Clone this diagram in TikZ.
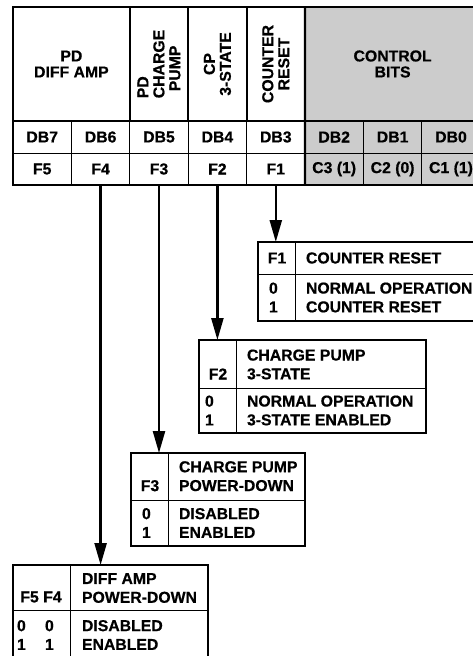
\documentclass[tikz,border=0pt]{standalone}
\usepackage{fontspec}
\setmainfont{Liberation Sans}[BoldFeatures={FakeBold=0.6}]
\usetikzlibrary{arrows.meta,positioning}
\definecolor{ctrlgrey}{gray}{0.8}

\begin{document}
\begin{tikzpicture}[x=1pt, y=-1pt,
  every node/.style={inner sep=0pt, outer sep=0pt, font=\bfseries\fontsize{15.8}{16}\selectfont},
  cell/.style={draw, line width=1pt, minimum width=58.4pt, minimum height=32pt},
  grey cell/.style={cell, fill=ctrlgrey},
  headcell/.style={draw, line width=1.8pt, minimum height=114pt, align=center},
  tableframe/.style={line width=2.4pt},
  boxframe/.style={line width=1.6pt},
  thinrule/.style={line width=1pt},
  body/.style={anchor=west, align=left, font=\bfseries\fontsize{15.8}{18.8}\selectfont},
  flagarrow/.style={line width=2.4pt, -{Triangle[length=22pt, width=12pt]}}]
\useasboundingbox (0,0) rectangle (472,656);

% register table
\node[headcell, minimum width=116.8pt] (hpd) at (71.4,64) {PD\\DIFF AMP};
\node[headcell, rotate=90, minimum width=114pt, minimum height=58.4pt, align=left] (hpump) at (159,64) {PD\\CHARGE\\\hspace*{7pt}PUMP};
\node[headcell, rotate=90, minimum width=114pt, minimum height=58.4pt] (hcp) at (217.4,64) {CP\\3-STATE};
\node[headcell, rotate=90, minimum width=114pt, minimum height=58.4pt] (hcnt) at (275.8,64) {COUNTER\\RESET};
\node[headcell, fill=ctrlgrey, minimum width=175.2pt] (hctl) at (392.6,64) {CONTROL\\BITS};

\foreach \n [count=\i from 0] in {7,6,5,4,3}
  \node[cell] (db\n) at (42.2+58.4*\i,137) {DB\n};
\foreach \n [count=\i from 5] in {2,1,0}
  \node[grey cell] (db\n) at (42.2+58.4*\i,137) {DB\n};
\foreach \n [count=\i from 0] in {5,4,3,2,1}
  \node[cell] (f\n) at (42.2+58.4*\i,169) {F\n};
\foreach \n/\v [count=\i from 5] in {3/1,2/0,1/1}
  \node[grey cell] (c\n) at (42.2+58.4*\i,169) {C\n\ (\v)};

\draw[tableframe] (hpd.north west) rectangle (c1.south east);
\draw[tableframe] (hctl.north west) -- (c3.south west);

% F1 box
\begin{scope}[shift={(258,242)}]
\coordinate (t1) at (0,0);
\draw[boxframe] (0,0) rectangle (240,79);
\draw[thinrule] (37,0) -- (37,79) (0,32) -- (240,32);
\node (k1) at (19,16) {F1};
\node[body] (n1) at (48,16) {COUNTER RESET};
\node[body] (v1) at (11,55.5) {0\\1};
\node[body] (s1) at (48,55.5) {NORMAL OPERATION\\COUNTER RESET};
\end{scope}

% F2 box
\begin{scope}[shift={(199,340)}]
\coordinate (t2) at (0,0);
\draw[boxframe] (0,0) rectangle (227,93);
\draw[thinrule] (37,0) -- (37,93) (0,48) -- (227,48);
\node (k2) at (19,34) {F2};
\node[body] (n2) at (48,24.5) {CHARGE PUMP\\3-STATE};
\node[body] (v2) at (6,70.5) {0\\1};
\node[body] (s2) at (48,70.5) {NORMAL OPERATION\\3-STATE ENABLED};
\end{scope}

% F3 box
\begin{scope}[shift={(131,453)}]
\coordinate (t3) at (0,0);
\draw[boxframe] (0,0) rectangle (174,93);
\draw[thinrule] (37,0) -- (37,93) (0,47) -- (174,47);
\node (k3) at (19,32.7) {F3};
\node[body] (n3) at (48,23.2) {CHARGE PUMP\\POWER-DOWN};
\node[body] (v3) at (11,70) {0\\1};
\node[body] (s3) at (48,70) {DISABLED\\ENABLED};
\end{scope}

% F5 F4 box
\begin{scope}[shift={(13,565)}]
\coordinate (t4) at (0,0);
\draw[boxframe] (0,0) rectangle (195,97);
\draw[thinrule] (57,0) -- (57,97) (0,45) -- (195,45);
\node (k4) at (28,32) {F5 F4};
\node[body] (n4) at (69,23) {DIFF AMP\\POWER-DOWN};
\node[body] (v5) at (4,70) {0\\1};
\node[body] (v4) at (32,70) {0\\1};
\node[body] (s4) at (69,70) {DISABLED\\ENABLED};
\end{scope}

% arrows
\draw[flagarrow] (f1.south) -- (f1.south |- t1);
\draw[flagarrow] (f2.south) -- (f2.south |- t2);
\draw[flagarrow] (f3.south) -- (f3.south |- t3);
\draw[flagarrow] (f4.south) -- (f4.south |- t4);
\end{tikzpicture}
\end{document}
